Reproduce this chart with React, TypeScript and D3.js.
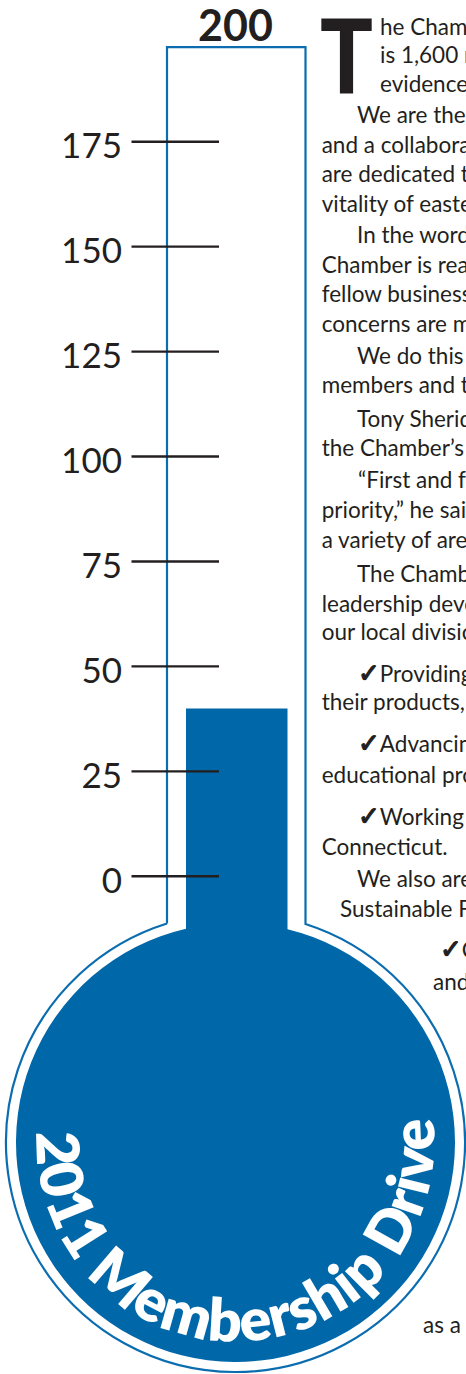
import React from 'react';
import * as d3 from 'd3';

// thermometer values
const tickValues = [0, 25, 50, 75, 100, 125, 150, 175];
const goal = 200;
const progress = 40;
const driveTitle = '2011 Membership Drive';

// article column beside the thermometer (clipped at the page edge)
const articleLines = [
  'he Chamber of Commerce', 'is 1,600 members', 'evidence of', 'We are the region',
  'and a collaborative', 'are dedicated to the', 'vitality of eastern', 'In the words of',
  'Chamber is really', 'fellow business', 'concerns are met', 'We do this by',
  'members and their', 'Tony Sheridan', 'the Chamber’s', '“First and foremost',
  'priority,” he said', 'a variety of areas', 'The Chamber', 'leadership development',
  'our local divisions', '✓Providing', 'their products,', '✓Advancing',
  'educational programs', '✓Working', 'Connecticut.', 'We also are',
  'Sustainable Future', '✓Creating', 'and', 'as a',
];

const W = 466;
const H = 1374;
const BLUE = '#0067a9';
const INK = '#231f20';

const App: React.FC = () => {
  const y = d3.scaleLinear().domain([0, 175]).range([876.3, 141.7]);

  // tube + bulb geometry
  const cx = 235.5;
  const cy = 1142.5;
  const rOut = 229.5;
  const rFill = 219.5;
  const tubeTop = y(goal) + 10.3;
  const ox0 = 167, ox1 = 305.5;
  const fx0 = 186, fx1 = 287.5;

  const joinY = (r: number, x: number) => cy - Math.sqrt(r * r - (x - cx) * (x - cx));

  const outline = d3.path();
  outline.moveTo(ox0, joinY(rOut, ox0));
  outline.lineTo(ox0, tubeTop);
  outline.lineTo(ox1, tubeTop);
  outline.lineTo(ox1, joinY(rOut, ox1));
  outline.arc(cx, cy, rOut,
    Math.atan2(joinY(rOut, ox1) - cy, ox1 - cx),
    Math.atan2(joinY(rOut, ox0) - cy, ox0 - cx), false);

  const mercury = d3.path();
  mercury.moveTo(fx0, y(progress));
  mercury.lineTo(fx1, y(progress));
  mercury.lineTo(fx1, joinY(rFill, fx1));
  mercury.arc(cx, cy, rFill,
    Math.atan2(joinY(rFill, fx1) - cy, fx1 - cx),
    Math.atan2(joinY(rFill, fx0) - cy, fx0 - cx), false);
  mercury.closePath();

  // curved title along the bottom of the bulb
  const deg = Math.PI / 180;
  const rText = 199;
  const a0 = 183 * deg, a1 = -7 * deg;
  const titlePath = d3.path();
  titlePath.arc(cx, cy, rText, a0, a1, true);
  const titleLen = rText * (a0 - a1);

  // article layout: [x, baseline]
  const layout: [number, number][] = [
    [380, 35], [380, 63.3], [380, 91.7], [357, 123], [321.7, 153], [321.7, 181.7],
    [321.7, 211.7], [357, 243], [321.7, 272.7], [321.7, 301.7], [321.7, 331.7], [357, 364],
    [321.7, 393.3], [357, 426.7], [321.7, 456], [358, 488.3], [321.7, 518.3], [321.7, 548.3],
    [357, 581.7], [321.7, 611.7], [321.7, 640], [358, 681.7], [321.7, 710], [358, 751.7],
    [321.7, 783.3], [358, 825], [321.7, 855], [357, 886.7], [340, 916.7], [440, 958.3],
    [433, 990], [423, 1333],
  ];

  const renderLine = (s: string) => {
    if (s.startsWith('✓')) {
      return (
        <>
          <tspan style={{ fontFamily: 'DejaVu Sans' }} fontSize={26} stroke={INK}
            strokeWidth={1.3}>✓</tspan>
          <tspan>{s.slice(1)}</tspan>
        </>
      );
    }
    return s;
  };

  return (
    <div style={{ position: 'absolute', left: 0, top: 0 }}>
      <svg width={W} height={H} style={{ display: 'block', background: '#fff' }}>
        {/* article */}
        <g fill={INK} fontFamily="Lato" fontSize={22.5}>
          <text x={320} y={92.7} fontSize={103} fontWeight={900}
            textLength={53} lengthAdjust="spacingAndGlyphs">T</text>
          {articleLines.map((s, i) => (
            <text key={i} x={layout[i][0]} y={layout[i][1]}>{renderLine(s)}</text>
          ))}
        </g>

        {/* thermometer */}
        <path d={outline.toString()} fill="none" stroke="#0b6db0" strokeWidth={2.2} />
        <path d={mercury.toString()} fill={BLUE} />

        {/* ticks and labels */}
        <g>
          {tickValues.map(t => (
            <g key={t}>
              <line x1={131.5} x2={219} y1={y(t)} y2={y(t)} stroke={INK} strokeWidth={2.4} />
              <text x={122} y={y(t) + 16.5} textAnchor="end" fontFamily="Lato"
                fontSize={35} fill={INK}>{t}</text>
            </g>
          ))}
          <text x={cx} y={y(goal) + 4} textAnchor="middle" fontFamily="Lato"
            fontWeight={700} fontSize={43} fill={INK}>{goal}</text>
        </g>

        <defs>
          <path id="drive-arc" d={titlePath.toString()} />
        </defs>
        <text fill="#fff" fontFamily="Lato" fontWeight={800} fontSize={59}>
          <textPath href="#drive-arc" textLength={titleLen} lengthAdjust="spacing">
            {driveTitle}
          </textPath>
        </text>
      </svg>
    </div>
  );
};

export default App;
